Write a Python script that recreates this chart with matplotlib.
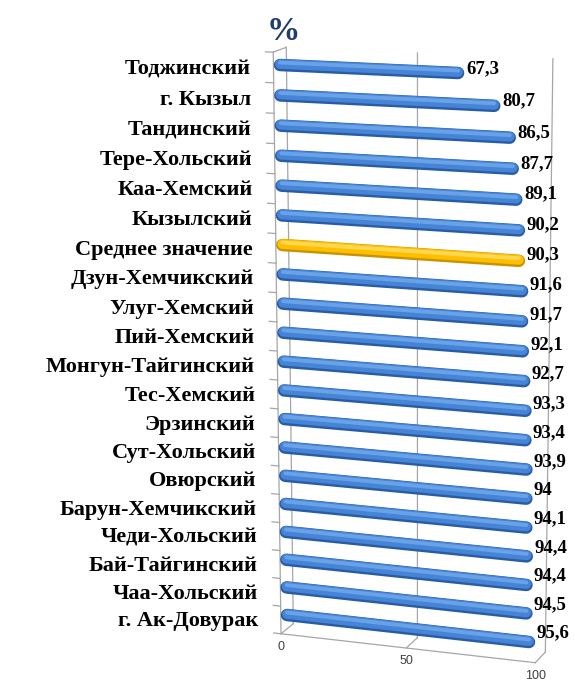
import numpy as np
import matplotlib
matplotlib.use('Agg')
import matplotlib.pyplot as plt
import matplotlib.transforms as mtransforms

# data
districts = ['Тоджинский', 'г. Кызыл', 'Тандинский', 'Тере-Хольский', 'Каа-Хемский',
             'Кызылский', 'Среднее значение', 'Дзун-Хемчикский', 'Улуг-Хемский',
             'Пий-Хемский', 'Монгун-Тайгинский', 'Тес-Хемский', 'Эрзинский',
             'Сут-Хольский', 'Овюрский', 'Барун-Хемчикский', 'Чеди-Хольский',
             'Бай-Тайгинский', 'Чаа-Хольский', 'г. Ак-Довурак']
values = [67.3, 80.7, 86.5, 87.7, 89.1, 90.2, 90.3, 91.6, 91.7, 92.1,
          92.7, 93.3, 93.4, 93.9, 94.0, 94.1, 94.4, 94.4, 94.5, 95.6]
highlight = 'Среднее значение'
x_ticks = [0, 50, 100]
title = '%'

W, H = 575, 684
n = len(districts)

# perspective camera: (value, row, depth, 1) -> homogeneous pixel coords
P = np.array([[2.502, 1.185, 7.88, 280.0],
              [0.0961, 30.697, -2.18, 65.0],
              [-0.000314, 0.002845, 0.00496, 1.0]])


class View(mtransforms.Transform):
    """2d data (two of value/row/depth) -> pixel coords of the 3d view"""
    input_dims = 2
    output_dims = 2
    is_separable = False
    has_inverse = False

    def __init__(self, plane='uv', const=0.0):
        super().__init__()
        self.plane = plane
        self.const = const

    def transform_non_affine(self, values):
        a = np.asarray(values, dtype=float).reshape(-1, 2)
        c = np.full(len(a), self.const)
        if self.plane == 'uv':
            pts = [a[:, 0], a[:, 1], c]
        elif self.plane == 'ut':
            pts = [a[:, 0], c, a[:, 1]]
        else:  # 'vt'
            pts = [c, a[:, 0], a[:, 1]]
        hx, hy, hw = P @ np.vstack(pts + [np.ones(len(a))])
        return np.column_stack([hx / hw, hy / hw])


fig = plt.figure(figsize=(W / 100, H / 100), dpi=100)
ax = fig.add_axes([0, 0, 1, 1])
ax.set_xlim(0, W)
ax.set_ylim(H, 0)
ax.set_autoscale_on(False)
ax.axis('off')


def view(plane='uv', const=0.0, dx=0, dy=0):
    t = View(plane, const) + ax.transData
    if dx or dy:
        t = t + mtransforms.Affine2D().translate(dx, dy)
    return t


grid_kw = dict(color='#a6a6a6', lw=0.9, zorder=1)
top, bottom = -0.5, n - 0.5

# back wall gridlines
for u in x_ticks:
    ax.plot([u, u], [top, bottom], transform=view('uv', 1.0), **grid_kw)
# side wall / category axis
ax.plot([0, 0], [top, bottom], transform=view('uv', -1.0), **grid_kw)
ax.plot([top, top], [-1, 1], transform=view('vt', 0), **grid_kw)
for k in range(n + 1):
    ax.plot([0, -3], [k - 0.5, k - 0.5], transform=view('uv', -1.0), **grid_kw)
# floor
ax.plot([0, 100], [-1, -1], transform=view('ut', bottom), **grid_kw)
for u in x_ticks:
    ax.plot([u, u], [-1, 1], transform=view('ut', bottom), **grid_kw)
    ax.text(u, -1, str(u), transform=view('ut', bottom, dy=-13),
            ha='center', va='center', fontsize=9, color='#404040',
            family='Liberation Sans')

blue = ('#2a5ca3', '#4584d6', '#6aa2e8')
yellow = ('#c89300', '#ffbf00', '#ffd850')

for i, (name, val) in enumerate(zip(districts, values)):
    dark, mid, light = yellow if name == highlight else blue
    ax.plot([0, val], [i, i], transform=view('uv', 0), color=dark, lw=9,
            solid_capstyle='round', zorder=3)
    ax.plot([0, val], [i, i], transform=view('uv', 0, dy=1), color=mid, lw=7,
            solid_capstyle='round', zorder=3)
    ax.plot([0, val], [i, i], transform=view('uv', 0, dy=2.5), color=light, lw=2.8,
            solid_capstyle='round', zorder=3)
    ax.text(val, i, f'{val:g}'.replace('.', ','), transform=view('uv', 1.8, dx=-2),
            ha='left', va='center', fontsize=13.5, fontweight='bold',
            family='Liberation Serif', color='black', zorder=4)
    ax.text(-3, i, name, transform=view('uv', -1.0, dx=-15, dy=-2),
            ha='right', va='center', fontsize=16, fontweight='bold',
            family='Liberation Serif', color='black', zorder=4)

fig.text(283 / W, 1 - 31 / H, title, ha='center', va='center', fontsize=24,
         fontweight='bold', family='Liberation Serif', color='#1f3d6d')

fig.savefig('out.png', dpi=100)
